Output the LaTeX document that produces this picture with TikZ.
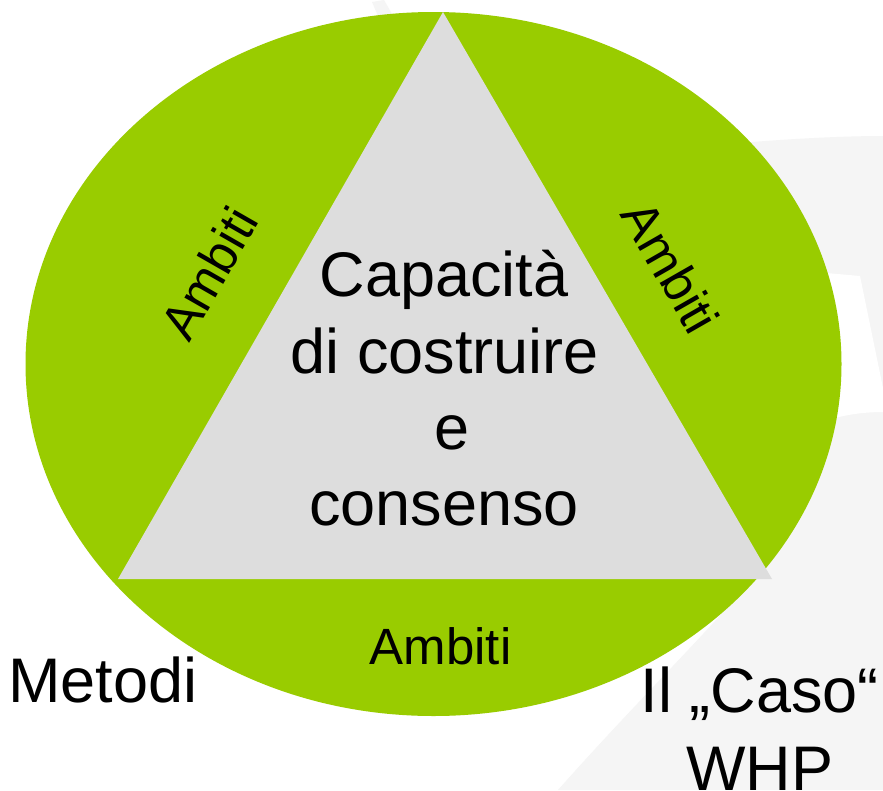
\documentclass[tikz,border=0pt]{standalone}
\usepackage{fontspec}
\setmainfont{Liberation Sans}
\definecolor{ringgreen}{HTML}{99CC00}
\definecolor{trigray}{HTML}{DDDDDD}
\definecolor{wmgray}{HTML}{F5F5F5}
\tikzset{
  big/.style={font=\fontsize{63}{76}\selectfont, inner sep=0pt, text=black},
  mid/.style={font=\fontsize{51}{61}\selectfont, inner sep=0pt, text=black},
}
\begin{document}
\begin{tikzpicture}[x=1pt,y=-1pt]
\useasboundingbox (0,0) rectangle (883,790);
\fill[white] (0,0) rectangle (883,790);
% faint watermark
\fill[wmgray] (740,143) .. controls (800,138) and (850,136) .. (883,136)
  -- (883,790) -- (558,790) .. controls (620,720) and (680,660) .. (725,610) -- cycle;
\fill[white] (815,272) -- (860,276) -- (883,388) -- (883,412)
  .. controls (860,412) and (835,416) .. (815,425) -- cycle;
\fill[wmgray] (372,2) -- (384,0) -- (392,14) -- (378,16) -- cycle;
% ring and triangle
\fill[ringgreen] (433.5,364) ellipse [x radius=408pt, y radius=352pt];
\coordinate (apex) at (443,12);
\coordinate (bl) at (118,579);
\coordinate (br) at (772,579);
\fill[trigray] (apex) -- (bl) -- (br) -- cycle;
% texts
\node[big, anchor=base] (l1) at (444,296) {Capacità};
\node[big, anchor=base] (l2) at (445,373) {di costruire};
\node[big, anchor=base] (l3) at (452,449) {e};
\node[big, anchor=base] (l4) at (444,525) {consenso};
\node[mid, rotate=60.2] (aleft) at (209,273) {Ambiti};
\node[mid, rotate=-60.2] (aright) at (671,267) {Ambiti};
\node[mid, anchor=base] (abot) at (440.5,664) {Ambiti};
\node[big, anchor=base west] (metodi) at (8,702) {Metodi};
\node[big, anchor=base] (caso) at (760,712) {Il „Caso“};
\node[big, anchor=base] (whp) at (760,790) {WHP};
\end{tikzpicture}
\end{document}
